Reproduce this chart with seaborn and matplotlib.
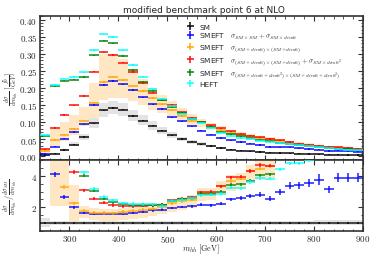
import numpy as np
import matplotlib
matplotlib.use('Agg')
import matplotlib.pyplot as plt
import seaborn as sns
from matplotlib.ticker import MultipleLocator, FuncFormatter

# m_hh bins [GeV]
mhh_edges = [240, 260, 280, 300, 320, 340, 360, 380, 400, 420, 440, 460, 480,
             500, 520, 540, 560, 580, 600, 620, 640, 660, 680, 700, 720, 740,
             760, 780, 800, 820, 840, 860, 880, 900]

# dsigma/dm_hh [fb/GeV]
sm = [0.002, 0.007, 0.018, 0.034, 0.056, 0.096, 0.134, 0.141, 0.136, 0.117, 0.104,
      0.089, 0.075, 0.061, 0.050, 0.042, 0.035, 0.030, 0.024, 0.019, 0.0165, 0.014,
      0.012, 0.0105, 0.009, 0.008, 0.007, 0.006, 0.0053, 0.0047, 0.0042, 0.0037, 0.0033]
smeft_lin = [0.006, 0.028, 0.051, 0.071, 0.093, 0.150, 0.208, 0.220, 0.210, 0.194, 0.172,
             0.152, 0.138, 0.114, 0.102, 0.087, 0.075, 0.063, 0.053, 0.046, 0.041, 0.037,
             0.033, 0.027, 0.026, 0.026, 0.023, 0.021, 0.019, 0.015, 0.016, 0.014, 0.013]
smeft_sq = [0.015, 0.047, 0.063, 0.079, 0.104, 0.157, 0.217, 0.233, 0.223, 0.206, 0.191,
            0.170, 0.152, 0.134, 0.118, 0.104, 0.099, 0.087, 0.078, 0.069, 0.063, 0.058,
            0.054, 0.049, 0.045, 0.040, 0.036, 0.033, 0.030, 0.027, 0.025, 0.023, 0.021]
smeft_sq_d8 = [0.020, 0.082, 0.120, 0.149, 0.176, 0.247, 0.304, 0.296, 0.274, 0.246, 0.213,
               0.186, 0.165, 0.150, 0.128, 0.112, 0.101, 0.090, 0.081, 0.073, 0.066, 0.060,
               0.055, 0.050, 0.046, 0.041, 0.037, 0.034, 0.031, 0.028, 0.026, 0.024, 0.022]
smeft_full = [0.060, 0.205, 0.221, 0.224, 0.232, 0.295, 0.338, 0.330, 0.293, 0.252, 0.218,
              0.192, 0.163, 0.144, 0.126, 0.108, 0.099, 0.085, 0.072, 0.064, 0.058, 0.052,
              0.047, 0.043, 0.039, 0.035, 0.032, 0.029, 0.027, 0.024, 0.022, 0.020, 0.019]
heft = [0.061, 0.208, 0.227, 0.232, 0.245, 0.311, 0.357, 0.349, 0.310, 0.267, 0.233,
        0.196, 0.168, 0.146, 0.124, 0.108, 0.097, 0.083, 0.069, 0.060, 0.053, 0.050,
        0.045, 0.040, 0.038, 0.036, 0.032, 0.029, 0.026, 0.023, 0.021, 0.019, 0.017]

# uncertainty bands (upper panel)
sm_lo = [0.001, 0.005, 0.015, 0.029, 0.048, 0.083, 0.116, 0.122, 0.118, 0.102, 0.091,
         0.078, 0.066, 0.054, 0.044, 0.037, 0.031, 0.026, 0.021, 0.017, 0.0145, 0.0123,
         0.0106, 0.0093, 0.008, 0.007, 0.0062, 0.0053, 0.0047, 0.0041, 0.0037, 0.0033, 0.0029]
sm_hi = [0.004, 0.010, 0.022, 0.040, 0.066, 0.111, 0.155, 0.162, 0.156, 0.134, 0.119,
         0.102, 0.086, 0.070, 0.057, 0.048, 0.040, 0.034, 0.028, 0.022, 0.019, 0.016,
         0.014, 0.012, 0.0105, 0.0093, 0.0081, 0.007, 0.0062, 0.0055, 0.0049, 0.0043, 0.0039]
sq_lo = [0.008, 0.030, 0.044, 0.063, 0.087, 0.112, 0.165, 0.170, 0.170, 0.160, 0.150,
         0.135, 0.125, 0.115, 0.102, 0.092, 0.085, 0.077, 0.069, 0.062, 0.056, 0.051,
         0.047, 0.043, 0.039, 0.035, 0.032, 0.029, 0.027, 0.024, 0.022, 0.020, 0.019]
sq_hi = [0.025, 0.080, 0.100, 0.120, 0.145, 0.215, 0.300, 0.300, 0.285, 0.255, 0.225,
         0.200, 0.180, 0.160, 0.140, 0.122, 0.110, 0.098, 0.088, 0.078, 0.071, 0.065,
         0.060, 0.055, 0.050, 0.045, 0.041, 0.038, 0.034, 0.031, 0.029, 0.026, 0.024]

# ratio to SM (lower panel), nan = outside the shown range
nan = np.nan
r_lin = [nan, 4.08, 2.63, 2.01, 1.64, 1.60, 1.59, 1.59, 1.61, 1.65, 1.72, 1.80, 1.86,
         1.95, 2.02, 2.06, 2.17, 2.12, 2.24, 2.50, 2.60, 2.72, 2.80, 2.54, 2.97, 3.36,
         3.41, 3.52, 3.74, 3.15, 3.88, 3.88, 3.88]
r_lin_err = [0, 0.15, 0.12, 0.1, 0.08, 0.08, 0.08, 0.08, 0.08, 0.08, 0.08, 0.08, 0.08,
             0.08, 0.08, 0.1, 0.1, 0.1, 0.1, 0.12, 0.12, 0.14, 0.14, 0.15, 0.18, 0.22,
             0.22, 0.25, 0.35, 0.22, 0.3, 0.3, 0.3]
r_sq = [nan, nan, 3.29, 2.26, 1.79, 1.67, 1.64, 1.63, 1.70, 1.78, 1.85, 1.90, 2.00,
        2.25, 2.38, 2.48, 2.89, 2.90, 3.34, 3.67, 3.80, 4.28, 4.45, 4.60,
        nan, nan, nan, nan, nan, nan, nan, nan, nan]
r_sq_d8 = [nan, nan, nan, 4.23, 3.08, 2.55, 2.28, 2.12, 2.07, 2.06, 2.10, 2.12, 2.17,
           2.45, 2.55, 2.64, 2.95, 2.97, 3.34, 3.90, 3.95, 4.30, 4.68, 4.63,
           nan, nan, nan, nan, nan, nan, nan, nan, nan]
r_full = [nan, nan, nan, nan, 4.01, 3.04, 2.55, 2.33, 2.20, 2.14, 2.15, 2.14, 2.17,
          2.41, 2.52, 2.58, 2.85, 2.87, 2.99, 3.42, 3.47, 3.69, 4.02, 4.08,
          nan, nan, nan, nan, nan, nan, nan, nan, nan]
r_heft = [nan, nan, nan, nan, 4.22, 3.18, 2.67, 2.44, 2.26, 2.21, 2.20, 2.20, 2.08,
          2.41, 2.48, 2.58, 2.77, 2.79, 2.86, 3.24, 3.20, 3.60, 3.86, 3.80, 4.40, 4.79,
          4.79, 4.97, nan, nan, nan, nan, nan]
r_sq_lo = [nan, 2.10, 2.10, 1.13, 1.30, 1.20, 1.15, 1.15, 1.20, 1.25, 1.35, 1.45, 1.55,
           1.70, 1.85, 1.95, 2.40, 2.45, 2.85, 3.05, 3.20, 3.60, 3.75, 3.85,
           nan, nan, nan, nan, nan, nan, nan, nan, nan]
r_sq_hi = [nan, 5.5, 5.5, 3.42, 2.10, 1.95, 1.90, 1.90, 1.95, 2.00, 2.10, 2.15, 2.25,
           2.50, 2.65, 2.75, 3.20, 3.25, 3.65, 4.05, 4.20, 4.65, 4.90, 5.00,
           nan, nan, nan, nan, nan, nan, nan, nan, nan]
r_sm_lo = [0.75, 0.88, 0.88, 0.88, 0.88, 0.88, 0.88, 0.88, 0.88, 0.88, 0.88, 0.88, 0.88,
           0.88, 0.88, 0.88, 0.88, 0.88, 0.88, 0.88, 0.88, 0.88, 0.88, 0.88, 0.88, 0.88,
           0.88, 0.88, 0.86, 0.86, 0.86, 0.86, 0.86]
r_sm_hi = [1.30, 1.15, 1.15, 1.15, 1.15, 1.15, 1.15, 1.15, 1.15, 1.15, 1.15, 1.15, 1.15,
           1.15, 1.15, 1.15, 1.15, 1.15, 1.15, 1.15, 1.15, 1.15, 1.15, 1.15, 1.15, 1.15,
           1.15, 1.15, 1.17, 1.17, 1.17, 1.17, 1.17]

labels = ['SM',
          r'SMEFT   $\sigma_{SM\times SM}+\sigma_{SM\times dim6}$',
          r'SMEFT   $\sigma_{(SM+dim6)\times(SM+dim6)}$',
          r'SMEFT   $\sigma_{(SM+dim6)\times(SM+dim6)}+\sigma_{SM\times dim6^2}$',
          r'SMEFT   $\sigma_{(SM+dim6+dim6^2)\times(SM+dim6+dim6^2)}$',
          'HEFT']
colors = ['black', 'blue', 'orange', 'red', 'green', 'cyan']

edges = np.array(mhh_edges, dtype=float)
centers = 0.5 * (edges[1:] + edges[:-1])
widths = np.diff(edges)

sns.set_theme(style='ticks')
plt.rcParams.update({
    'font.family': ['DejaVu Sans'],
    'mathtext.fontset': 'cm',
    'xtick.direction': 'in',
    'ytick.direction': 'in',
    'xtick.top': True,
    'ytick.right': True,
    'axes.linewidth': 1.2,
    'axes.edgecolor': '#333333',
})

fig = plt.figure(figsize=(3.7, 2.55), dpi=100)
ax1 = fig.add_axes([0.108, 0.369, 0.873, 0.564])
ax2 = fig.add_axes([0.108, 0.090, 0.873, 0.279], sharex=ax1)

# bands
sq_lo_a, sq_hi_a = np.array(sq_lo), np.array(sq_hi)
ax1.bar(centers, sq_hi_a - sq_lo_a, bottom=sq_lo_a, width=widths,
        color='#ffe7c4', linewidth=0, zorder=1)
sm_lo_a, sm_hi_a = np.array(sm_lo), np.array(sm_hi)
ax1.bar(centers, sm_hi_a - sm_lo_a, bottom=sm_lo_a, width=widths,
        color='#dddddd', alpha=0.8, linewidth=0, zorder=1)

rlo, rhi = np.array(r_sq_lo), np.array(r_sq_hi)
ax2.bar(centers, rhi - rlo, bottom=rlo, width=widths,
        color='#ffe7c4', linewidth=0, zorder=1)
slo, shi = np.array(r_sm_lo), np.array(r_sm_hi)
ax2.bar(centers, shi - slo, bottom=slo, width=widths,
        color='#dddddd', alpha=0.8, linewidth=0, zorder=1)

# central values
top_series = [sm, smeft_lin, smeft_sq, smeft_sq_d8, smeft_full, heft]
handles = []
for vals, col, lab in zip(top_series, colors, labels):
    h = ax1.errorbar(centers, vals, xerr=widths / 2, yerr=0.002, fmt='none',
                     ecolor=col, elinewidth=1.4, alpha=0.75, zorder=3, label=lab)
    handles.append(h)

ratio_sm = np.array(sm) / np.array(sm)
ratio_series = [ratio_sm, r_lin, r_sq, r_sq_d8, r_full, r_heft]
ratio_errs = [0.07, r_lin_err, 0.1, 0.1, 0.1, 0.1]
for vals, col, err in zip(ratio_series, colors, ratio_errs):
    ax2.errorbar(centers, vals, xerr=widths / 2, yerr=err, fmt='none',
                 ecolor=col, elinewidth=1.3, alpha=0.75, zorder=3)

# axes cosmetics
ax1.set_xlim(240, 900)
ax1.set_ylim(-0.011, 0.41)
ax2.set_ylim(0.5, 5)

ax1.yaxis.set_major_locator(MultipleLocator(0.05))
ax1.yaxis.set_minor_locator(MultipleLocator(0.01))
ax1.yaxis.set_major_formatter(FuncFormatter(lambda v, p: '$%.2f$' % v))
ax2.xaxis.set_major_locator(MultipleLocator(100))
ax2.xaxis.set_minor_locator(MultipleLocator(20))
ax2.xaxis.set_major_formatter(FuncFormatter(lambda v, p: '$%d$' % v))
ax2.yaxis.set_major_locator(MultipleLocator(2))
ax2.yaxis.set_minor_locator(MultipleLocator(0.5))
ax2.yaxis.set_major_formatter(FuncFormatter(lambda v, p: '$%d$' % v))

for ax in (ax1, ax2):
    ax.tick_params(which='major', length=3.5, width=0.8, labelsize=6.5, pad=2,
                   color='#333333')
    ax.tick_params(which='minor', length=1.8, width=0.6, color='#333333')
    ax.tick_params(which='both', direction='in', top=True, right=True)
ax1.tick_params(labelbottom=False)
ax2.tick_params(axis='x', pad=1.5)

ax1.set_ylabel(r'$\frac{d\sigma}{dm_{hh}}\ [\frac{fb}{GeV}]$', fontsize=6)
ax1.yaxis.set_label_coords(-0.062, 0.5)
ax2.set_ylabel(r'$\frac{d\sigma}{dm_{hh}}\, /\, \frac{d\sigma_{SM}}{dm_{hh}}$', fontsize=6)
ax2.yaxis.set_label_coords(-0.062, 0.5)
ax2.set_xlabel(r'$m_{hh}\ [\mathrm{GeV}]$', fontsize=5.8)
ax2.xaxis.set_label_coords(0.5, -0.15)

ax1.legend(handles=handles, labels=labels, loc='upper left',
           bbox_to_anchor=(0.44, 0.985), frameon=False, fontsize=5.3,
           handlelength=0.8, handletextpad=0.8, labelspacing=0.15,
           borderpad=0.2)

fig.text(0.55, 0.96, 'modified benchmark point 6 at NLO', ha='center',
         va='center', fontsize=6.5)

fig.savefig('out.png', dpi=100)
